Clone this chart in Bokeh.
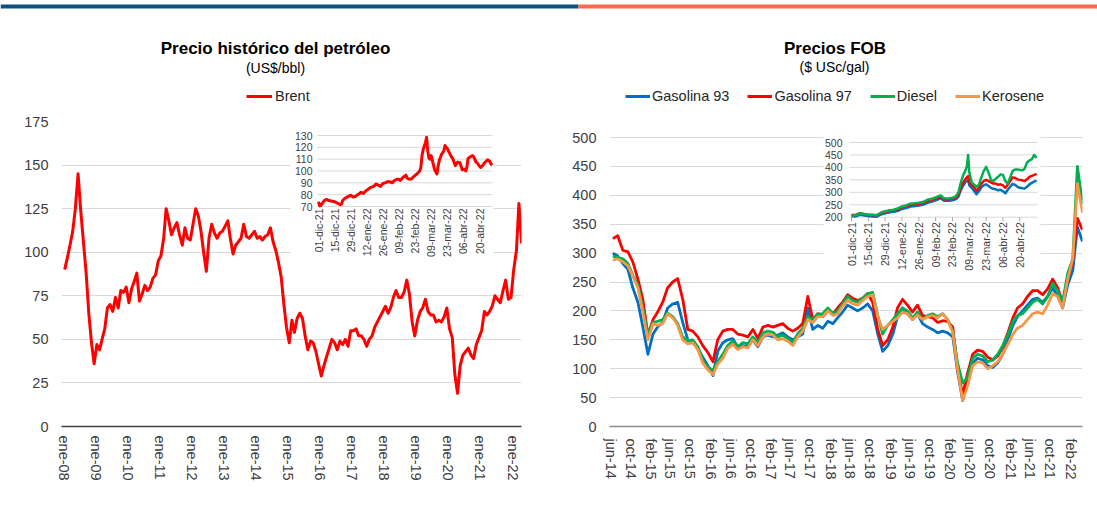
import math
from datetime import date
from bokeh.plotting import figure
from bokeh.models import Range1d, FixedTicker, Legend, LegendItem
from bokeh.layouts import column, row
from bokeh.embed import file_html
from bokeh.resources import INLINE
from bokeh.core.properties import value

# ======================= DATA =======================
# ---- Left: Brent, monthly, from 2008-01 ----
brent_start = (2008, 1)
brent_values = [
    90, 97, 104, 112, 125, 145, 124, 106, 88, 65, 48, 36,        # 2008
    47, 44, 50, 56, 68, 70, 66, 74, 68, 78, 77, 80,              # 2009
    71, 79, 83, 88, 72, 76, 81, 78, 80, 85, 87, 95,              # 2010
    98, 108, 125, 118, 110, 114, 117, 110, 104, 114, 108, 107,   # 2011
    116, 125, 121, 112, 100, 89, 108, 116, 111, 108, 111, 112,   # 2012
    115, 118, 108, 99, 104, 106, 108, 116, 109, 108, 110, 112,   # 2013
    108, 109, 107, 109, 110, 114, 106, 101, 94, 86, 70, 57,      # 2014
    48, 61, 54, 62, 65, 62, 52, 44, 49, 48, 43, 36,              # 2015
    29, 35, 40, 45, 50, 48, 44, 49, 47, 50, 46, 55,              # 2016
    55, 56, 52, 52, 50, 46, 50, 52, 57, 60, 63, 66,              # 2017
    69, 65, 68, 74, 78, 74, 74, 77, 84, 76, 60, 52,              # 2018
    61, 66, 68, 73, 66, 64, 64, 60, 61, 60, 63, 68,              # 2019
    56, 51, 30, 19, 35, 41, 43, 45, 41, 39, 47, 51,              # 2020
    55, 66, 64, 66, 69, 75, 73, 71, 78, 84, 73, 74,              # 2021
    90, 101, 128, 105,                                           # 2022
]
left_tick_dates = ["2008-01-01", "2009-01-01", "2010-01-01", "2011-01-01", "2012-01-01",
                   "2013-01-01", "2014-01-01", "2015-01-01", "2016-01-01", "2017-01-01",
                   "2018-01-01", "2019-01-01", "2020-01-01", "2021-01-01", "2022-01-01"]
left_tick_labels = ["ene-08", "ene-09", "ene-10", "ene-11", "ene-12", "ene-13", "ene-14",
                    "ene-15", "ene-16", "ene-17", "ene-18", "ene-19", "ene-20", "ene-21", "ene-22"]
left_y_ticks = [0, 25, 50, 75, 100, 125, 150, 175]

# ---- Left inset: Brent daily Dec-2021..Apr-2022 ----
inset_brent_dates = [
    "2021-12-01", "2021-12-02", "2021-12-03", "2021-12-06", "2021-12-08", "2021-12-10",
    "2021-12-13", "2021-12-15", "2021-12-17", "2021-12-20", "2021-12-21", "2021-12-22",
    "2021-12-24", "2021-12-27", "2021-12-29", "2021-12-31", "2022-01-02", "2022-01-05",
    "2022-01-07", "2022-01-09", "2022-01-11", "2022-01-13", "2022-01-15", "2022-01-18",
    "2022-01-20", "2022-01-22", "2022-01-24", "2022-01-26", "2022-01-28", "2022-01-30",
    "2022-02-01", "2022-02-03", "2022-02-05", "2022-02-07", "2022-02-09", "2022-02-10",
    "2022-02-13", "2022-02-15", "2022-02-16", "2022-02-18", "2022-02-20", "2022-02-22",
    "2022-02-24", "2022-02-26", "2022-02-27", "2022-02-28", "2022-03-01", "2022-03-02",
    "2022-03-03", "2022-03-04", "2022-03-05", "2022-03-06", "2022-03-07", "2022-03-08",
    "2022-03-09", "2022-03-10", "2022-03-11", "2022-03-12", "2022-03-14", "2022-03-15",
    "2022-03-16", "2022-03-18", "2022-03-20", "2022-03-21", "2022-03-22", "2022-03-23",
    "2022-03-24", "2022-03-26", "2022-03-27", "2022-03-28", "2022-03-30", "2022-04-01",
    "2022-04-03", "2022-04-05", "2022-04-07", "2022-04-08", "2022-04-09", "2022-04-10",
    "2022-04-12", "2022-04-14", "2022-04-15", "2022-04-17", "2022-04-18", "2022-04-20",
    "2022-04-21", "2022-04-23", "2022-04-24", "2022-04-26", "2022-04-27", "2022-04-29",
    "2022-04-30", "2022-05-01",
]
inset_brent_values = [
    74, 70.5, 71, 75, 76, 75,
    74.5, 74, 73, 71.5, 72, 75,
    77, 78.5, 79.5, 78, 78.5, 80.5,
    82, 81, 83, 84.5, 86, 87,
    89, 88, 87, 89.5, 90, 91,
    91, 90, 92, 93, 93, 92,
    95, 96.5, 94, 93, 93.5, 95.5,
    97, 99, 100, 103, 113, 118,
    121, 124, 128.5, 117, 111, 110,
    113, 109, 105, 101, 97.5, 104,
    109, 114, 117, 121.5, 120, 119,
    117, 113, 111.5, 110, 104.5, 107.5,
    107, 101, 101.5, 100, 103, 110.5,
    112, 113, 112, 107.5, 107, 104,
    103, 105, 106.5, 108.5, 109.5, 108,
    106, 105,
]
inset_left_y_ticks = [70, 80, 90, 100, 110, 120, 130]
inset_tick_dates = ["2021-12-01", "2021-12-15", "2021-12-29", "2022-01-12", "2022-01-26",
                    "2022-02-09", "2022-02-23", "2022-03-09", "2022-03-23", "2022-04-06",
                    "2022-04-20"]
inset_tick_labels = ["01-dic-21", "15-dic-21", "29-dic-21", "12-ene-22", "26-ene-22",
                     "09-feb-22", "23-feb-22", "09-mar-22", "23-mar-22", "06-abr-22",
                     "20-abr-22"]

# ---- Right: FOB prices, monthly, from 2014-06 ----
fob_start = (2014, 6)
gas93 = [300, 295, 282, 272, 240, 215, 172, 125, 160, 172,
         180, 205, 212, 215, 180, 150, 145, 135, 120, 105,
         88, 130, 145, 150, 152, 138, 140, 138, 150, 138,
         155, 158, 155, 158, 162, 155, 150, 155, 160, 205,
         168, 175, 170, 182, 178, 188, 198, 210, 205, 200,
         205, 212, 200, 160, 130, 140, 160, 190, 205, 195,
         185, 195, 178, 172, 168, 162, 165, 162, 155, 95,
         45, 80, 110, 118, 115, 105, 102, 110, 125, 150,
         175, 190, 200, 210, 220, 222, 215, 225, 240, 225,
         205, 245, 270, 345, 320]
gas97 = [325, 330, 305, 302, 285, 255, 220, 158, 185, 198,
         215, 240, 250, 256, 220, 168, 165, 155, 140, 128,
         112, 150, 165, 168, 168, 160, 158, 155, 168, 152,
         172, 175, 172, 175, 178, 170, 165, 170, 178, 225,
         185, 195, 190, 200, 195, 205, 215, 228, 222, 218,
         222, 230, 215, 168, 140, 150, 172, 205, 220, 210,
         198, 210, 192, 190, 188, 180, 183, 182, 172, 100,
         55, 92, 125, 132, 130, 120, 115, 122, 138, 162,
         188, 205, 212, 225, 235, 235, 228, 238, 255, 240,
         215, 255, 285, 360, 340]
diesel = [295, 292, 290, 282, 262, 245, 205, 160, 180, 182,
          185, 196, 190, 178, 155, 148, 150, 138, 115, 102,
          98, 112, 125, 140, 148, 138, 145, 143, 155, 145,
          162, 165, 163, 155, 158, 152, 145, 160, 170, 190,
          185, 195, 195, 205, 195, 200, 212, 225, 218, 215,
          222, 230, 232, 192, 160, 175, 185, 195, 205, 200,
          188, 198, 185, 192, 195, 190, 195, 185, 165, 110,
          75, 85, 118, 125, 122, 112, 115, 125, 140, 158,
          182, 192, 195, 205, 215, 220, 212, 225, 248, 235,
          215, 265, 290, 450, 385]
kerosene = [288, 290, 285, 278, 260, 240, 198, 150, 178, 175,
            178, 195, 188, 175, 150, 143, 145, 133, 110, 98,
            90, 108, 118, 135, 142, 133, 138, 136, 150, 140,
            155, 160, 158, 150, 152, 148, 140, 155, 165, 185,
            180, 190, 190, 200, 192, 195, 208, 218, 212, 210,
            218, 225, 228, 190, 168, 175, 182, 188, 198, 195,
            185, 193, 185, 190, 192, 188, 195, 185, 162, 100,
            45, 70, 105, 112, 110, 100, 105, 112, 125, 142,
            160, 170, 175, 185, 195, 198, 195, 210, 230, 225,
            205, 255, 290, 420, 370]
right_tick_dates = ["2014-06-01", "2014-10-01", "2015-02-01", "2015-06-01", "2015-10-01",
                    "2016-02-01", "2016-06-01", "2016-10-01", "2017-02-01", "2017-06-01",
                    "2017-10-01", "2018-02-01", "2018-06-01", "2018-10-01", "2019-02-01",
                    "2019-06-01", "2019-10-01", "2020-02-01", "2020-06-01", "2020-10-01",
                    "2021-02-01", "2021-06-01", "2021-10-01", "2022-02-01"]
right_tick_labels = ["jun-14", "oct-14", "feb-15", "jun-15", "oct-15", "feb-16", "jun-16",
                     "oct-16", "feb-17", "jun-17", "oct-17", "feb-18", "jun-18", "oct-18",
                     "feb-19", "jun-19", "oct-19", "feb-20", "jun-20", "oct-20", "feb-21",
                     "jun-21", "oct-21", "feb-22"]
right_y_ticks = [0, 50, 100, 150, 200, 250, 300, 350, 400, 450, 500]

# ---- Right inset: Dec-2021..Apr-2022 ----
inset_fob_dates = [
    "2021-12-01", "2021-12-04", "2021-12-08", "2021-12-12", "2021-12-15", "2021-12-19",
    "2021-12-22", "2021-12-26", "2021-12-29", "2022-01-02", "2022-01-05", "2022-01-09",
    "2022-01-12", "2022-01-16", "2022-01-19", "2022-01-23", "2022-01-26", "2022-01-30",
    "2022-02-02", "2022-02-06", "2022-02-09", "2022-02-13", "2022-02-16", "2022-02-20",
    "2022-02-23", "2022-02-26", "2022-02-28", "2022-03-02", "2022-03-04", "2022-03-06",
    "2022-03-07", "2022-03-08", "2022-03-09", "2022-03-11", "2022-03-13", "2022-03-15",
    "2022-03-17", "2022-03-19", "2022-03-21", "2022-03-23", "2022-03-25", "2022-03-27",
    "2022-03-29", "2022-03-31", "2022-04-02", "2022-04-04", "2022-04-06", "2022-04-08",
    "2022-04-10", "2022-04-12", "2022-04-14", "2022-04-16", "2022-04-18", "2022-04-20",
    "2022-04-22", "2022-04-24", "2022-04-26", "2022-04-28", "2022-04-30", "2022-05-02",
    "2022-05-04",
]
inset_g93 = [205, 203, 210, 207, 205, 203, 202, 212, 216, 220, 222, 226, 233, 238, 243,
             245, 247, 251, 258, 263, 268, 276, 266, 266, 268, 273, 283, 310, 328, 342,
             346, 350, 328, 318, 305, 292, 304, 320, 328, 332, 325, 318, 314, 312, 308,
             310, 305, 296, 310, 322, 334, 330, 322, 318, 316, 315, 322, 332, 338, 343, 347]
inset_g97 = [210, 208, 216, 212, 210, 208, 207, 218, 222, 226, 228, 232, 240, 245, 250,
             252, 254, 258, 265, 270, 275, 283, 272, 272, 275, 280, 290, 320, 340, 355,
             360, 365, 340, 330, 320, 305, 318, 335, 345, 350, 345, 340, 335, 335, 330,
             332, 328, 318, 330, 345, 360, 358, 352, 350, 348, 345, 352, 362, 366, 370, 374]
inset_diesel = [205, 208, 215, 212, 210, 210, 208, 220, 224, 228, 230, 236, 243, 248, 255,
                256, 258, 262, 270, 274, 280, 288, 276, 275, 278, 285, 300, 340, 370, 390,
                405, 450, 380, 340, 330, 322, 330, 360, 385, 402, 380, 350, 345, 355, 362,
                372, 370, 345, 335, 360, 385, 392, 392, 390, 388, 395, 420, 428, 432, 450, 438]
inset_right_y_ticks = [200, 250, 300, 350, 400, 450, 500]

# ======================= STYLE / LAYOUT =======================
FONT = "Liberation Sans"
LABEL_COLOR = "#404040"
GRID_COLOR = "#d9d9d9"
C_RED = "#FF0000"
C_BLUE = "#0070C0"
C_GREEN = "#00B050"
C_ORANGE = "#F79646"
TICK_FS = "14.5px"
INSET_FS = "10.5px"
PAGE_W = 1097
HEAD_H = 111                 # header strip (bar, titles, legends): page rows 0..111
FRAME_T, FRAME_B = 121, 426  # frames of both charts share top/bottom (row alignment)
FIG_H = 385                  # charts: page rows 111..496


def d(s):
    y, m, dd = map(int, s.split("-"))
    return date(y, m, dd)


def month_days(start, n, origin):
    out = []
    y, m = start
    for i in range(n):
        yy = y + (m - 1 + i) // 12
        mm = (m - 1 + i) % 12 + 1
        out.append((date(yy, mm, 15) - origin).days)
    return out


def make_fig(frame, fig_left, fig_w, xr, yr, xstandoff):
    fl, fr, ft, fb = frame
    p = figure(width=fig_w, height=FIG_H,
               min_border_left=fl - fig_left, min_border_right=fig_left + fig_w - fr,
               min_border_top=ft - HEAD_H, min_border_bottom=HEAD_H + FIG_H - fb,
               x_range=Range1d(*xr), y_range=Range1d(*yr),
               output_backend="svg", toolbar_location=None, title=None,
               background_fill_color="white", border_fill_color="white")
    p.outline_line_color = None
    p.xgrid.visible = False
    p.ygrid.grid_line_color = GRID_COLOR
    p.ygrid.grid_line_width = 1
    for ax in (p.xaxis[0], p.yaxis[0]):
        ax.major_tick_line_color = None
        ax.minor_tick_line_color = None
        ax.major_tick_out = 0
        ax.major_tick_in = 0
        ax.major_label_text_font = FONT
        ax.major_label_text_font_size = TICK_FS
        ax.major_label_text_color = LABEL_COLOR
    p.yaxis[0].axis_line_color = None
    p.yaxis[0].major_label_standoff = 13
    p.xaxis[0].major_label_orientation = "vertical"
    p.xaxis[0].major_label_standoff = xstandoff
    return p


def inset(p, frame, spec, name):
    """Set extra ranges so that inset data land at the given pixel positions."""
    fl, fr, ft, fb = frame
    (pxa, da), (pxb, db) = spec["x"]
    (pya, va), (pyb, vb) = spec["y"]
    sx = (db - da) / (pxb - pxa)
    sy = (vb - va) / (pya - pyb)
    p.extra_x_ranges[name + "x"] = Range1d(da - (pxa - fl) * sx, db + (fr - pxb) * sx)
    p.extra_y_ranges[name + "y"] = Range1d(va - (fb - pya) * sy, vb + (pyb - ft) * sy)
    to_x = lambda px: da + (px - pxa) * sx
    to_y = lambda py: va + (pya - py) * sy
    return to_x, to_y, sx, sy


# ======================= LEFT CHART =======================
L_ORIGIN = d(left_tick_dates[0])
LFRAME = (61, 521, FRAME_T, FRAME_B)
ltick_days = [(d(s) - L_ORIGIN).days for s in left_tick_dates]
kL = (ltick_days[-1] - ltick_days[0]) / (512 - 63)
lxr = (ltick_days[0] - (63 - LFRAME[0]) * kL, ltick_days[-1] + (LFRAME[1] - 512) * kL)
pL = make_fig(LFRAME, 0, 550, lxr, (0, 175), 9)
pL.yaxis[0].ticker = FixedTicker(ticks=left_y_ticks)
pL.xaxis[0].ticker = FixedTicker(ticks=ltick_days)
pL.xaxis[0].major_label_overrides = {k: v for k, v in zip(ltick_days, left_tick_labels)}
pL.xaxis[0].axis_line_color = "#404040"
pL.xaxis[0].axis_line_width = 1.5

brent_x = month_days(brent_start, len(brent_values), L_ORIGIN)
pL.line(brent_x, brent_values, line_color=C_RED, line_width=3, line_join="round")

# inset
I_ORIGIN = d(inset_tick_dates[0])
itick_days = [(d(s) - I_ORIGIN).days for s in inset_tick_dates]
to_x, to_y, sxL, syL = inset(pL, LFRAME, {"x": ((318, itick_days[0]), (479, itick_days[-1])),
                                          "y": ((206, inset_left_y_ticks[0]), (135, inset_left_y_ticks[-1]))}, "L")
kw = dict(x_range_name="Lx", y_range_name="Ly")
pL.quad(left=to_x(290), right=to_x(493), bottom=to_y(255), top=to_y(124),
        fill_color="white", line_color=None, **kw)
pL.segment(x0=to_x(317), x1=to_x(492), y0=inset_left_y_ticks, y1=inset_left_y_ticks,
           line_color=GRID_COLOR, line_width=1, **kw)
pL.line([(d(s) - I_ORIGIN).days for s in inset_brent_dates], inset_brent_values,
        line_color=C_RED, line_width=3, line_join="round", **kw)
pL.text(x=to_x(317), y=inset_left_y_ticks, text=[str(v) for v in inset_left_y_ticks],
        text_font=value(FONT), text_font_size=value(INSET_FS), text_color=LABEL_COLOR,
        text_align="right", text_baseline="middle", x_offset=-5, **kw)
pL.text(x=itick_days, y=inset_left_y_ticks[0], text=inset_tick_labels, angle=math.pi / 2,
        text_font=value(FONT), text_font_size=value(INSET_FS), text_color=LABEL_COLOR,
        text_align="right", text_baseline="middle", y_offset=2, **kw)

# ======================= RIGHT CHART =======================
R_ORIGIN = d(right_tick_dates[0])
RFRAME = (609, 1082, FRAME_T, FRAME_B)
R_TOP500 = 137   # pixel row of the 500 gridline
rtick_days = [(d(s) - R_ORIGIN).days for s in right_tick_dates]
kR = (rtick_days[-1] - rtick_days[0]) / (1070 - 610)
rxr = (rtick_days[0] - (610 - RFRAME[0]) * kR, rtick_days[-1] + (RFRAME[1] - 1070) * kR)
ry_end = right_y_ticks[-1] * (FRAME_B - FRAME_T) / (FRAME_B - R_TOP500)
pR = make_fig(RFRAME, 550, 547, rxr, (0, ry_end), 12)
pR.yaxis[0].ticker = FixedTicker(ticks=right_y_ticks)
pR.xaxis[0].ticker = FixedTicker(ticks=rtick_days)
pR.xaxis[0].major_label_overrides = {k: v for k, v in zip(rtick_days, right_tick_labels)}
pR.xaxis[0].axis_line_color = "#8c8c8c"
pR.xaxis[0].axis_line_width = 1.5

fob_x = month_days(fob_start, len(gas93), R_ORIGIN)
series = [("Gasolina 93", gas93, C_BLUE), ("Gasolina 97", gas97, C_RED),
          ("Diesel", diesel, C_GREEN), ("Kerosene", kerosene, C_ORANGE)]
for name, vals, col in series:
    pR.line(fob_x, vals, line_color=col, line_width=2.8, line_join="round")

to_x2, to_y2, sxR, syR = inset(pR, RFRAME, {"x": ((851, itick_days[0]), (1019.3, itick_days[-1])),
                                            "y": ((216.7, inset_right_y_ticks[0]), (142, inset_right_y_ticks[-1]))}, "R")
kw2 = dict(x_range_name="Rx", y_range_name="Ry")
pR.quad(left=to_x2(823), right=to_x2(1040), bottom=to_y2(270), top=to_y2(133),
        fill_color="white", line_color=None, **kw2)
pR.segment(x0=to_x2(849), x1=to_x2(1037), y0=inset_right_y_ticks, y1=inset_right_y_ticks,
           line_color=GRID_COLOR, line_width=1, **kw2)
pR.segment(x0=itick_days, x1=itick_days, y0=inset_right_y_ticks[0],
           y1=inset_right_y_ticks[0] - 4 * syR, line_color="#a6a6a6", line_width=1, **kw2)
inset_x = [(d(s) - I_ORIGIN).days for s in inset_fob_dates]
for vals, col in ((inset_g93, C_BLUE), (inset_g97, C_RED), (inset_diesel, C_GREEN)):
    pR.line(inset_x, vals, line_color=col, line_width=2.5, line_join="round", **kw2)
pR.text(x=to_x2(849), y=inset_right_y_ticks, text=[str(v) for v in inset_right_y_ticks],
        text_font=value(FONT), text_font_size=value(INSET_FS), text_color=LABEL_COLOR,
        text_align="right", text_baseline="middle", x_offset=-7, **kw2)
pR.text(x=itick_days, y=inset_right_y_ticks[0], text=inset_tick_labels, angle=math.pi / 2,
        text_font=value(FONT), text_font_size=value(INSET_FS), text_color=LABEL_COLOR,
        text_align="right", text_baseline="middle", y_offset=5, **kw2)

# ======================= HEADER (bar, titles, legends) =======================
# page pixel coordinates: x to the right, y downwards
hd = figure(width=PAGE_W, height=HEAD_H, min_border=0, x_range=Range1d(0, PAGE_W),
            y_range=Range1d(HEAD_H, 0), x_axis_location=None, y_axis_location=None,
            output_backend="svg", toolbar_location=None, title=None,
            background_fill_color="white", border_fill_color="white")
hd.outline_line_color = None
hd.grid.visible = False
hd.quad(left=[0, 578], right=[578, PAGE_W], top=[4, 4], bottom=[8, 8],
        fill_color=["#0d4f80", "#ff6a4f"], line_color=None)

titles = [("Precio histórico del petróleo", 275, 48, "17px", "bold"),
          ("(US$/bbl)", 275, 67, "14px", "normal"),
          ("Precios FOB", 834.5, 48, "17px", "bold"),
          ("($ USc/gal)", 834, 66, "14px", "normal")]
for text, cx, cy, fs, style in titles:
    hd.text(x=[cx], y=[cy], text=[text], text_font=value(FONT), text_font_size=value(fs),
            text_font_style=style, text_color="#000000", text_align="center",
            text_baseline="middle")

NAN = float("nan")


def header_legend(entries, glyph_left, glyph_w, standoff, spacing):
    items = []
    for name, col in entries:
        # proxy renderer (no visible data) that only supplies the legend swatch style
        r = hd.line(x=[NAN, NAN], y=[NAN, NAN], line_color=col, line_width=3)
        items.append(LegendItem(label=name, renderers=[r]))
    hd.add_layout(Legend(items=items, location=(glyph_left, HEAD_H - 106),
                         orientation="horizontal", glyph_width=glyph_w, glyph_height=20,
                         label_standoff=standoff, padding=0, margin=0, spacing=spacing,
                         border_line_color=None, background_fill_alpha=0,
                         label_text_font=FONT, label_text_font_size=TICK_FS,
                         label_text_color="#262626"))


header_legend([("Brent", C_RED)], 246, 26, 3, 18)
header_legend([(name, col) for name, _, col in series], 625, 25, 2, 18)

layout = column(hd, row(pL, pR, spacing=0), spacing=0)
open("out.html", "w").write(file_html(layout, INLINE))
